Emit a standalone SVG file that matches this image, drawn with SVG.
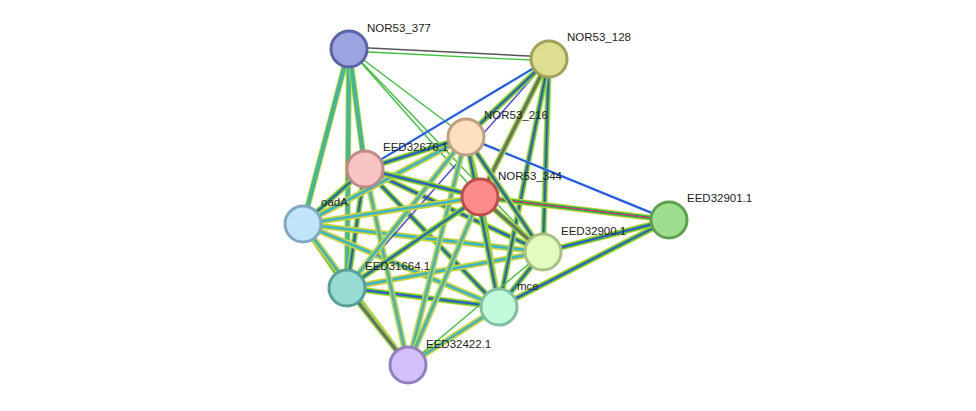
<svg xmlns="http://www.w3.org/2000/svg" width="976" height="411" viewBox="0 0 976 411">
<style>
.n{stroke-width:3}
.t{font-family:"Liberation Sans",Arial,sans-serif;font-size:11.5px;fill:#222}
.y{stroke:#c8d23c;stroke-width:6}
.g{stroke:#3cc03c;stroke-width:4}
.c{stroke:#3cb4c8;stroke-width:2.6}
.b{stroke:#3c3cf0;stroke-width:1.4}
.r{stroke:#f03c3c;stroke-width:1}
.k{stroke:#555;stroke-width:1.5}
.l{stroke:#3cc03c;stroke-width:1.3}
</style>
<g id="connectors" fill="none">
<!-- 377-128 -->
<line class="k" x1="349" y1="47" x2="549" y2="57"/><line class="l" x1="349" y1="51" x2="549" y2="61"/>
<line class="l" x1="349" y1="49" x2="466" y2="137"/>
<line class="l" x1="349" y1="49" x2="480" y2="197"/>
<line class="l" x1="349" y1="49" x2="543" y2="252"/>
<g id="mid">
<line class="y" x1="349" y1="49" x2="303" y2="224"/><line class="g" x1="349" y1="49" x2="303" y2="224"/><line class="c" x1="349" y1="49" x2="303" y2="224"/>
<line class="y" x1="349" y1="49" x2="347" y2="288"/><line class="g" x1="349" y1="49" x2="347" y2="288"/><line class="c" x1="349" y1="49" x2="347" y2="288"/>
<line class="y" x1="349" y1="49" x2="365" y2="169"/><line class="g" x1="349" y1="49" x2="365" y2="169"/><line class="c" x1="349" y1="49" x2="365" y2="169"/>
<line class="y" x1="365" y1="169" x2="303" y2="224"/><line class="g" x1="365" y1="169" x2="303" y2="224"/><line class="b" x1="365" y1="169" x2="303" y2="224"/>
<line class="y" x1="365" y1="169" x2="347" y2="288"/><line class="g" x1="365" y1="169" x2="347" y2="288"/><line class="b" x1="365" y1="169" x2="347" y2="288"/>
<line class="y" x1="303" y1="224" x2="347" y2="288"/><line class="g" x1="303" y1="224" x2="347" y2="288"/><line class="b" x1="303" y1="224" x2="347" y2="288"/>
<line class="y" x1="365" y1="169" x2="543" y2="252"/><line class="g" x1="365" y1="169" x2="543" y2="252"/><line class="b" x1="365" y1="169" x2="543" y2="252"/>
<line class="y" x1="365" y1="169" x2="499" y2="307"/><line class="g" x1="365" y1="169" x2="499" y2="307"/><line class="b" x1="365" y1="169" x2="499" y2="307"/>
<line class="y" x1="303" y1="224" x2="499" y2="307"/><line class="c" x1="303" y1="224" x2="499" y2="307"/>
<line class="y" x1="303" y1="224" x2="543" y2="252"/><line class="c" x1="303" y1="224" x2="543" y2="252"/>
<line class="y" x1="347" y1="288" x2="499" y2="307"/><line class="g" x1="347" y1="288" x2="499" y2="307"/><line class="b" x1="347" y1="288" x2="499" y2="307"/>
<line class="y" x1="347" y1="288" x2="543" y2="252"/><line class="c" x1="347" y1="288" x2="543" y2="252"/>
<line class="y" x1="549" y1="59" x2="543" y2="252"/><line class="g" x1="549" y1="59" x2="543" y2="252"/><line class="b" x1="549" y1="59" x2="543" y2="252"/>
<line class="y" x1="549" y1="59" x2="499" y2="307"/><line class="g" x1="549" y1="59" x2="499" y2="307"/><line class="b" x1="549" y1="59" x2="499" y2="307"/>
<line class="c" x1="549" y1="59" x2="365" y2="169"/><line class="b" x1="549" y1="59" x2="365" y2="169"/>
<line class="b" x1="549" y1="59" x2="347" y2="288"/>
<line class="y" x1="669" y1="220" x2="499" y2="307"/><line class="g" x1="669" y1="220" x2="499" y2="307"/><line class="b" x1="669" y1="220" x2="499" y2="307"/>
<line class="y" x1="669" y1="220" x2="543" y2="252"/><line class="g" x1="669" y1="220" x2="543" y2="252"/><line class="b" x1="669" y1="220" x2="543" y2="252"/>
<line class="c" x1="669" y1="220" x2="466" y2="137"/><line class="b" x1="669" y1="220" x2="466" y2="137"/>
<line class="y" x1="408" y1="365" x2="499" y2="307"/><line class="c" x1="408" y1="365" x2="499" y2="307"/>
<line class="y" x1="408" y1="365" x2="365" y2="169"/><line class="c" x1="408" y1="365" x2="365" y2="169"/>
<line class="y" x1="408" y1="365" x2="303" y2="224"/><line class="c" x1="408" y1="365" x2="303" y2="224"/>
<line class="y" x1="408" y1="365" x2="466" y2="137"/><line class="c" x1="408" y1="365" x2="466" y2="137"/>
<line class="l" x1="408" y1="365" x2="543" y2="252"/>
<line class="y" x1="466" y1="137" x2="347" y2="288"/><line class="c" x1="466" y1="137" x2="347" y2="288"/>
<line class="y" x1="466" y1="137" x2="303" y2="224"/><line class="c" x1="466" y1="137" x2="303" y2="224"/>
<line class="y" x1="543" y1="252" x2="499" y2="307"/><line class="g" x1="543" y1="252" x2="499" y2="307"/><line class="b" x1="543" y1="252" x2="499" y2="307"/>
</g>
<g id="rich">
<line class="y" x1="549" y1="59" x2="480" y2="197"/><line class="g" x1="549" y1="59" x2="480" y2="197"/><line class="b" x1="549" y1="59" x2="480" y2="197"/><line class="r" x1="549" y1="59" x2="480" y2="197"/>
<line class="y" x1="549" y1="59" x2="466" y2="137"/><line class="g" x1="549" y1="59" x2="466" y2="137"/><line class="b" x1="549" y1="59" x2="466" y2="137"/>
<line class="y" x1="466" y1="137" x2="480" y2="197"/><line class="g" x1="466" y1="137" x2="480" y2="197"/><line class="b" x1="466" y1="137" x2="480" y2="197"/><line class="r" x1="466" y1="137" x2="480" y2="197"/>
<line class="y" x1="480" y1="197" x2="669" y2="220"/><line class="g" x1="480" y1="197" x2="669" y2="220"/><line class="b" x1="480" y1="197" x2="669" y2="220"/><line class="r" x1="480" y1="197" x2="669" y2="220"/>
<line class="y" x1="480" y1="197" x2="543" y2="252"/><line class="g" x1="480" y1="197" x2="543" y2="252"/><line class="b" x1="480" y1="197" x2="543" y2="252"/><line class="r" x1="480" y1="197" x2="543" y2="252"/>
<line class="y" x1="480" y1="197" x2="499" y2="307"/><line class="g" x1="480" y1="197" x2="499" y2="307"/><line class="b" x1="480" y1="197" x2="499" y2="307"/><line class="r" x1="480" y1="197" x2="499" y2="307"/>
<line class="y" x1="466" y1="137" x2="543" y2="252"/><line class="g" x1="466" y1="137" x2="543" y2="252"/><line class="b" x1="466" y1="137" x2="543" y2="252"/>
<line class="y" x1="466" y1="137" x2="499" y2="307"/><line class="g" x1="466" y1="137" x2="499" y2="307"/><line class="b" x1="466" y1="137" x2="499" y2="307"/>
<line class="y" x1="480" y1="197" x2="347" y2="288"/><line class="g" x1="480" y1="197" x2="347" y2="288"/><line class="b" x1="480" y1="197" x2="347" y2="288"/>
<line class="y" x1="480" y1="197" x2="408" y2="365"/><line class="c" x1="480" y1="197" x2="408" y2="365"/>
<line class="y" x1="347" y1="288" x2="408" y2="365"/><line class="g" x1="347" y1="288" x2="408" y2="365"/><line class="b" x1="347" y1="288" x2="408" y2="365"/><line class="r" x1="347" y1="288" x2="408" y2="365"/>
<line class="y" x1="365" y1="169" x2="480" y2="197"/><line class="g" x1="365" y1="169" x2="480" y2="197"/><line class="b" x1="365" y1="169" x2="480" y2="197"/>
<line class="y" x1="365" y1="169" x2="466" y2="137"/><line class="g" x1="365" y1="169" x2="466" y2="137"/><line class="b" x1="365" y1="169" x2="466" y2="137"/>
<line class="y" x1="303" y1="224" x2="480" y2="197"/><line class="c" x1="303" y1="224" x2="480" y2="197"/>
</g>
</g>
<g id="NOR53_377"><circle class="n" cx="349" cy="49" r="18" fill="#9ba3e0" stroke="#5b63a8"/><text class="t" x="367" y="32">NOR53_377</text></g>
<g id="NOR53_128"><circle class="n" cx="549" cy="59" r="18" fill="#dede93" stroke="#a0a058"/><text class="t" x="567" y="41">NOR53_128</text></g>
<g id="NOR53_216"><circle class="n" cx="466" cy="137" r="18" fill="#fde0c0" stroke="#c0a080"/><text class="t" x="484" y="119">NOR53_216</text></g>
<g id="EED32676.1"><circle class="n" cx="365" cy="169" r="18" fill="#f8c4c4" stroke="#c08888"/><text class="t" x="383" y="151">EED32676.1</text></g>
<g id="NOR53_344"><circle class="n" cx="480" cy="197" r="18" fill="#ff8c8c" stroke="#c04c4c"/><text class="t" x="498" y="180">NOR53_344</text></g>
<g id="EED32901.1"><circle class="n" cx="669" cy="220" r="18" fill="#9ede8e" stroke="#5ea04e"/><text class="t" x="687" y="202">EED32901.1</text></g>
<g id="oadA"><circle class="n" cx="303" cy="224" r="18" fill="#c0e4fa" stroke="#80a8c0"/><text class="t" x="321" y="206">oadA</text></g>
<g id="EED32900.1"><circle class="n" cx="543" cy="252" r="18" fill="#e2fcc0" stroke="#a8c080"/><text class="t" x="561" y="235">EED32900.1</text></g>
<g id="EED31664.1"><circle class="n" cx="347" cy="288" r="18" fill="#96dcd4" stroke="#56a098"/><text class="t" x="365" y="270">EED31664.1</text></g>
<g id="mce"><circle class="n" cx="499" cy="307" r="18" fill="#c0fcdc" stroke="#80c0a0"/><text class="t" x="517" y="290">mce</text></g>
<g id="EED32422.1"><circle class="n" cx="408" cy="365" r="18" fill="#d2c0fa" stroke="#9480c0"/><text class="t" x="426" y="348">EED32422.1</text></g>
</svg>
